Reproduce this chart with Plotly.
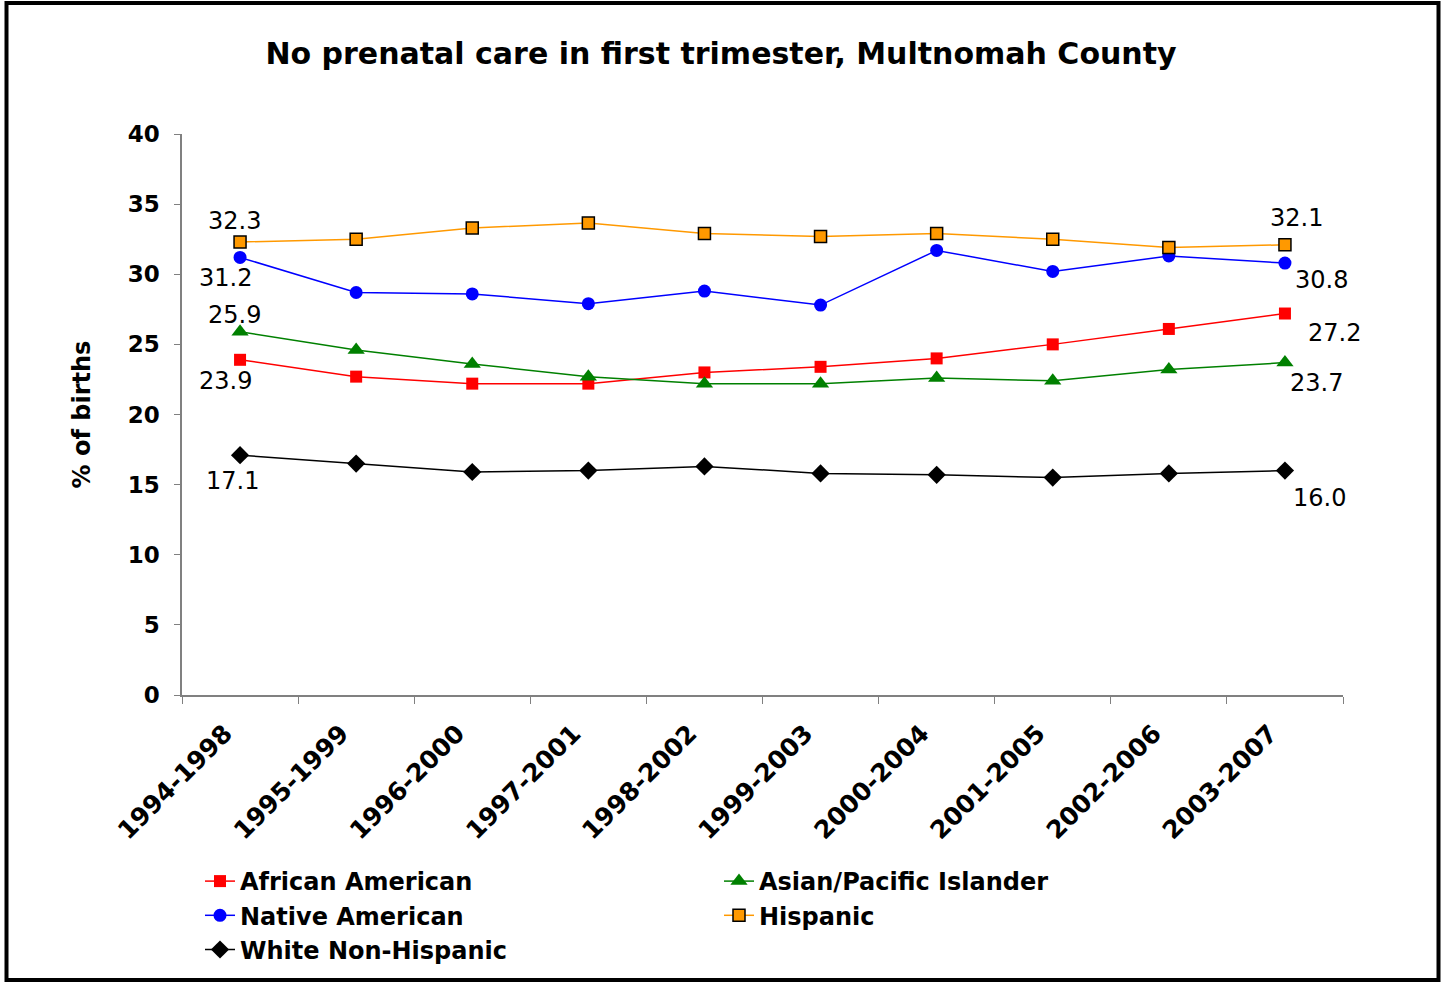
import plotly.graph_objects as go

periods = ["1994-1998", "1995-1999", "1996-2000", "1997-2001", "1998-2002",
           "1999-2003", "2000-2004", "2001-2005", "2002-2006", "2003-2007"]

african_american = [23.9, 22.7, 22.2, 22.2, 23.0, 23.4, 24.0, 25.0, 26.1, 27.2]
asian_pacific = [25.9, 24.6, 23.6, 22.7, 22.2, 22.2, 22.6, 22.4, 23.2, 23.7]
native_american = [31.2, 28.7, 28.6, 27.9, 28.8, 27.8, 31.7, 30.2, 31.3, 30.8]
hispanic = [32.3, 32.5, 33.3, 33.65, 32.9, 32.7, 32.9, 32.5, 31.9, 32.1]
white_non_hispanic = [17.1, 16.5, 15.9, 16.0, 16.3, 15.8, 15.7, 15.5, 15.8, 16.0]

FONT = "DejaVu Sans"

series = [
    ("African American", african_american, "#FF0000",
     dict(symbol="square", size=12, color="#FF0000")),
    ("Asian/Pacific Islander", asian_pacific, "#008000",
     dict(symbol="triangle-up", size=15, color="#008000")),
    ("Native American", native_american, "#0000FF",
     dict(symbol="circle", size=13, color="#0000FF")),
    ("Hispanic", hispanic, "#FF9900",
     dict(symbol="square", size=12, color="#FF9900",
          line=dict(color="#000000", width=1.5))),
    ("White Non-Hispanic", white_non_hispanic, "#000000",
     dict(symbol="diamond", size=14, color="#000000")),
]

fig = go.Figure()
for name, vals, color, marker in series:
    fig.add_trace(go.Scatter(
        x=periods, y=vals, name=name, mode="lines+markers",
        line=dict(color=color, width=1.5), marker=marker,
    ))

# value labels at the first and last period (x/y shifts in pixels)
first_offsets = {
    "Hispanic": (-6, 21), "Native American": (-15, -21),
    "Asian/Pacific Islander": (-6, 17), "African American": (-15, -21),
    "White Non-Hispanic": (-8, -26),
}
last_offsets = {
    "Hispanic": (12, 27), "Native American": (37, -17),
    "African American": (50, -19), "Asian/Pacific Islander": (32, -20),
    "White Non-Hispanic": (35, -27),
}
for name, vals, color, marker in series:
    for idx, offs in ((0, first_offsets), (-1, last_offsets)):
        dx, dy = offs[name]
        fig.add_annotation(
            x=periods[idx], y=vals[idx], text=f"{vals[idx]:.1f}",
            showarrow=False, xshift=dx, yshift=dy,
            font=dict(family=FONT, size=24, color="#000000"),
        )

W, H = 1442, 982
L, R, T, B = 182, 99, 134, 287
pw, ph = W - L - R, H - T - B


def px_x(p):
    return (p - L) / pw


def px_y(p):
    return (H - B - p) / ph


# outer frame around the whole chart
fig.add_shape(type="rect", xref="paper", yref="paper",
              x0=px_x(6.5), x1=px_x(1438.5), y0=px_y(980), y1=px_y(3),
              line=dict(color="#000000", width=4), fillcolor="rgba(0,0,0,0)",
              layer="below")

fig.update_layout(
    width=W, height=H,
    margin=dict(l=L, r=R, t=T, b=B, pad=0, autoexpand=False),
    paper_bgcolor="#FFFFFF", plot_bgcolor="#FFFFFF",
    font=dict(family=FONT, color="#000000"),
    title=dict(text="No prenatal care in first trimester, Multnomah County",
               x=0.5, xref="container", xanchor="center",
               y=1 - 53 / H, yref="container", yanchor="middle",
               font=dict(family=FONT, size=30, weight="bold", color="#000000")),
    xaxis=dict(
        type="category", range=[-0.5, 9.5], automargin=False,
        showline=True, linecolor="#808080", linewidth=1.5,
        showgrid=False, zeroline=False,
        ticks="outside", tickson="boundaries", ticklen=7, tickcolor="#808080",
        tickangle=-45, ticklabelstandoff=12, ticklabelshift=-15,
        tickfont=dict(family=FONT, size=25, weight="bold", color="#000000"),
    ),
    yaxis=dict(
        range=[0, 40], dtick=5, tick0=0, automargin=False,
        showline=True, linecolor="#808080", linewidth=1.5,
        showgrid=False, zeroline=False,
        ticks="outside", ticklen=6, tickcolor="#808080",
        ticklabelstandoff=10,
        tickfont=dict(family=FONT, size=23, weight="bold", color="#000000"),
        title=dict(text="% of births", standoff=30,
                   font=dict(family=FONT, size=24, weight="bold", color="#000000")),
    ),
    showlegend=True,
    legend=dict(
        orientation="h", x=px_x(200), xanchor="left",
        y=px_y(859), yanchor="top",
        entrywidth=474, entrywidthmode="pixels",
        font=dict(family=FONT, size=24, weight="bold", color="#000000"),
        bgcolor="rgba(0,0,0,0)", tracegroupgap=0, itemsizing="trace",
        traceorder="normal",
    ),
)

fig.write_html("out.html")
